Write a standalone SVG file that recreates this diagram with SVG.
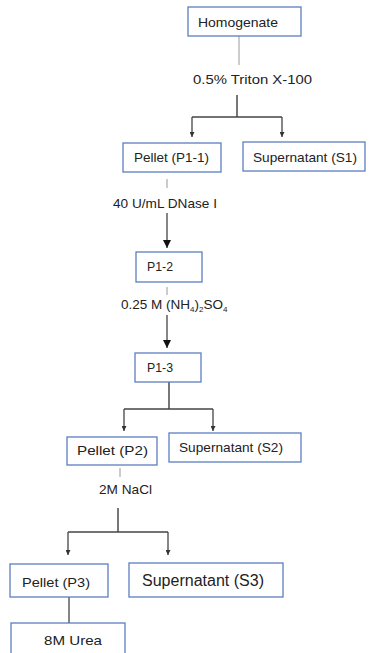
<svg xmlns="http://www.w3.org/2000/svg" width="369" height="653" viewBox="0 0 369 653">
<style>
.box{fill:#fff;stroke:#5b7fc0;stroke-width:1.3}
.t{font-family:"Liberation Sans",Arial,sans-serif;font-size:13.5px;fill:#222}
.big{font-size:16px}
.thin{stroke:#999;stroke-width:1;fill:none}
.ln{stroke:#444;stroke-width:1.3;fill:none}
.br{stroke:#555;stroke-width:1.6;fill:none}
</style>
<defs>
<marker id="sm" markerWidth="5" markerHeight="5" refX="5" refY="2.5" orient="auto" markerUnits="userSpaceOnUse" viewBox="0 0 5 5">
<path d="M0,0 L5,2.5 L0,5 Z" fill="#333"/>
</marker>
<marker id="lg" markerWidth="9" markerHeight="9" refX="8" refY="4.5" orient="auto" markerUnits="userSpaceOnUse" viewBox="0 0 9 9">
<path d="M0,0.5 L8,4.5 L0,8.5 Z" fill="#111"/>
</marker>
</defs>
<rect width="369" height="653" fill="#fff"/>
<g id="connectors">
<line class="thin" x1="239" y1="36" x2="239" y2="65"/>
<line class="br" x1="237" y1="95" x2="237" y2="117"/>
<path class="ln" d="M192,117 H282"/>
<line class="ln" x1="192" y1="117" x2="192" y2="137" marker-end="url(#sm)"/>
<line class="ln" x1="282" y1="117" x2="282" y2="137" marker-end="url(#sm)"/>
<line class="thin" x1="167" y1="179" x2="167" y2="188"/>
<line class="ln" x1="167" y1="213" x2="167" y2="248" marker-end="url(#lg)"/>
<line class="thin" x1="167" y1="287" x2="167" y2="295"/>
<line class="ln" x1="167" y1="315" x2="167" y2="348" marker-end="url(#lg)"/>
<line class="br" x1="169" y1="382" x2="169" y2="409"/>
<path class="ln" d="M124,409 H213"/>
<line class="ln" x1="124" y1="409" x2="124" y2="431" marker-end="url(#sm)"/>
<line class="ln" x1="213" y1="409" x2="213" y2="431" marker-end="url(#sm)"/>
<line class="thin" x1="120" y1="468" x2="120" y2="477"/>
<line class="br" x1="118" y1="508" x2="118" y2="532"/>
<path class="ln" d="M68,532 H168"/>
<line class="ln" x1="68" y1="532" x2="68" y2="555" marker-end="url(#sm)"/>
<line class="ln" x1="168" y1="532" x2="168" y2="555" marker-end="url(#sm)"/>
<line class="ln" x1="69" y1="597" x2="69" y2="623"/>
</g>
<g id="homogenate"><rect class="box" x="188" y="7" width="113" height="29"/><text class="t" x="198" y="27" textLength="80" lengthAdjust="spacingAndGlyphs">Homogenate</text></g>
<g id="label-triton"><text class="t" x="193" y="84" textLength="119" lengthAdjust="spacingAndGlyphs">0.5% Triton X-100</text></g>
<g id="pellet-p1-1"><rect class="box" x="123" y="143" width="98" height="29"/><text class="t" x="134" y="162" textLength="75" lengthAdjust="spacingAndGlyphs">Pellet (P1-1)</text></g>
<g id="supernatant-s1"><rect class="box" x="243" y="142" width="122" height="29"/><text class="t" x="253" y="162" textLength="104" lengthAdjust="spacingAndGlyphs">Supernatant (S1)</text></g>
<g id="label-dnase"><text class="t" x="113" y="208" textLength="104" lengthAdjust="spacingAndGlyphs">40 U/mL DNase I</text></g>
<g id="p1-2"><rect class="box" x="136" y="252" width="66" height="30"/><text class="t" x="147" y="271" textLength="26" lengthAdjust="spacingAndGlyphs">P1-2</text></g>
<g id="label-ammonium"><text class="t" x="121" y="309">0.25 M (NH<tspan font-size="8" dy="3">4</tspan><tspan dy="-3">)</tspan><tspan font-size="8" dy="3">2</tspan><tspan dy="-3">SO</tspan><tspan font-size="8" dy="3">4</tspan></text></g>
<g id="p1-3"><rect class="box" x="135" y="353" width="66" height="29"/><text class="t" x="147" y="372" textLength="26" lengthAdjust="spacingAndGlyphs">P1-3</text></g>
<g id="pellet-p2"><rect class="box" x="67" y="437" width="90" height="28"/><text class="t" x="77" y="455" textLength="71" lengthAdjust="spacingAndGlyphs">Pellet (P2)</text></g>
<g id="supernatant-s2"><rect class="box" x="169" y="433" width="132" height="29"/><text class="t" x="179" y="452" textLength="104" lengthAdjust="spacingAndGlyphs">Supernatant (S2)</text></g>
<g id="label-nacl"><text class="t" x="99" y="494" textLength="53" lengthAdjust="spacingAndGlyphs">2M NaCl</text></g>
<g id="pellet-p3"><rect class="box" x="10" y="564" width="98" height="33"/><text class="t" x="22" y="587" textLength="68" lengthAdjust="spacingAndGlyphs">Pellet (P3)</text></g>
<g id="supernatant-s3"><rect class="box" x="129" y="563" width="154" height="34"/><text class="t big" x="142" y="586" textLength="122" lengthAdjust="spacingAndGlyphs">Supernatant (S3)</text></g>
<g id="urea"><rect class="box" x="11" y="623" width="114" height="40"/><text class="t" x="44" y="645" textLength="58" lengthAdjust="spacingAndGlyphs">8M Urea</text></g>
</svg>
